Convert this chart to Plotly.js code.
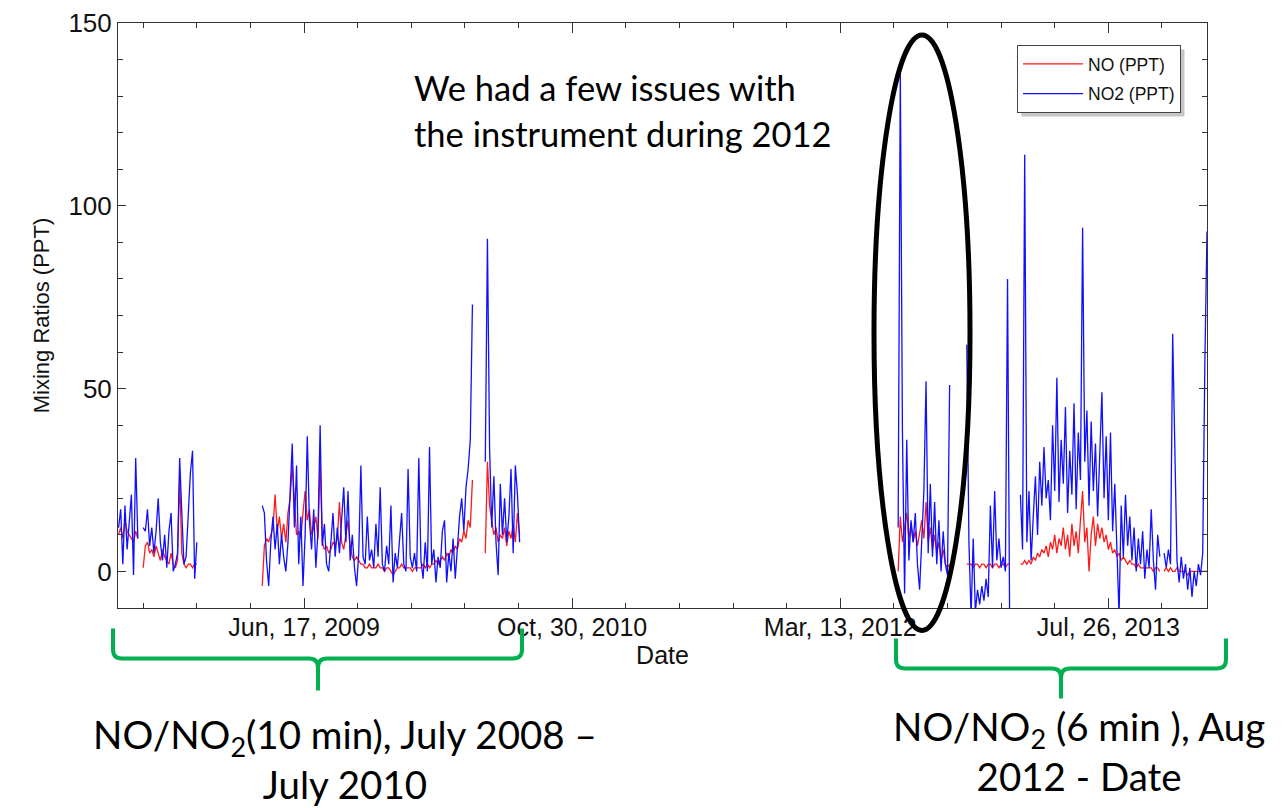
<!DOCTYPE html>
<html>
<head>
<meta charset="utf-8">
<script src="https://cdn.plot.ly/plotly-3.0.1.min.js"></script>
<style>
  html, body { margin: 0; padding: 0; background: #ffffff; }
  #chart { width: 1287px; height: 808px; }
</style>
</head>
<body>
<div id="chart"></div>
<script>
// Averaging interval of the plotted records, in days
const STEP_DAYS = 4;

// First timestamp of each measurement block
const blockStarts = ['2008-07-06', '2008-08-21', '2009-03-31', '2010-05-21', '2012-06-29'];

// NO2 mixing ratio (ppt) per block
const no2_2008a = [12, 17, 2, 18, 6, 13, 21, -1, 31, 9];
const no2_2008b = [12, 11, 17, 7, 12, 5, 11, 20, 8, 3, 10, 1, 11, 16, 0, 2, 5, 31, 16, 2, 4, 14, 27, 33, -2, 8];
const no2_2009 = [
  18, 16, 3, -4, 8, 15, 6, 13, 2, 10,
  4, 0, 8, 23, 35, 12, 29, 2, 15, -4,
  10, 37, 14, 6, 17, 1, 11, 40, 7, 13,
  2, 0, 9, 16, 4, 12, 5, 14, 23, 8,
  22, 3, 10, 1, -4, 5, 29, 4, 2, 15,
  3, 6, 1, 13, 4, 23, 2, 0, 7, 2,
  18, -3, 5, 1, 9, 16, 2, 0, 28, 4,
  1, 5, 0, 31, 3, -2, 8, 0, 34, 2,
  6, -3, 4, 1, 11, 14, -3, 5, 0, 9,
  -2, 6, 15, 20, 11, 23, 28, 36, 73];
const no2_2010 = [30, 91, 34, 12, 26, 8, -1, 24, 10, 20, 8, 15, 28, 5, 29, 21, 8];
const no2_2012 = [
  12, 137, 38, -6, 36, 3, 14, 8, 16, 2,
  -5, 10, 22, 52, 5, 24, 4, 19, 2, 14,
  0, 11, 2, -1, 51, null, null, null, null, null,
  null, null, 62, 8, -12, 9, -11, -5, -9, -4,
  -8, -2, -7, 18, 1, 22, 3, 9, 1, 4,
  0, 80, -15, null, null, null, null, 21, 6, 114,
  8, 22, 3, 15, 26, 10, 30, 18, 34, 20,
  25, 14, 40, 22, 53, 19, 36, 24, 45, 16,
  33, 21, 46, 17, 38, 25, 94, 30, 44, 18,
  41, 22, 35, 15, 32, 49, 20, 37, 14, 38,
  11, 24, 6, -12, 18, 4, 21, 7, 15, 3,
  12, 0, 9, 2, 11, -2, 6, 1, 17, 3,
  -5, 10, 4, null, 5, 1, 6, 2, 65, 38,
  3, -3, 4, -2, 2, -5, 1, -7, 0, -4,
  2, -1, 5, 57, 93];

// NO mixing ratio (ppt) per block
const no_2008a = [10, 12, 9, 14, 11, 10, 9, 8, 11, 9];
const no_2008b = [1, 7, 8, 5, 6, 4, 7, 5, 3, 6, 4, 3, 2, 5, 2, 1, 3, 26, 5, 2, 1, 2, 2, 1, 2, 2];
const no_2009 = [
  -4, 7, 9, 8, 10, 12, 21, 11, 15, 9,
  13, 8, 16, 20, 29, 18, 10, 11, 9, 16,
  22, 14, 17, 10, 12, 15, 9, 31, 8, 6,
  7, 5, 6, 8, 7, 9, 19, 8, 6, 10,
  14, 7, 4, 3, 4, 3, 2, 2, 1, 1,
  2, 1, 1, 1, 2, 1, 1, 0, 1, 1,
  0, -1, 0, 1, 1, 2, 1, 1, 1, 1,
  0, 1, 1, 1, 1, 2, 1, 2, 1, 2,
  2, 3, 2, 3, 4, 3, 5, 4, 6, 5,
  7, 6, 9, 8, 11, 9, 14, 12, 25];
const no_2010 = [5, 30, 18, 14, 10, 12, 8, 10, 9, 12, 7, 11, 9, 13, 8, 16, 10];
const no_2012 = [
  0, 15, 8, 12, 16, 9, 13, 8, 11, 7,
  10, 14, 9, 19, 8, 12, 6, 10, 5, 8,
  3, 6, 2, 1, 2, null, null, null, null, null,
  null, null, 2, 2, 2, 1, 2, 2, 1, 2,
  2, 1, 2, 2, 1, 2, 2, 1, 2, 2,
  1, 2, 2, null, null, null, null, 2, 2, 3,
  2, 3, 2, 4, 3, 5, 4, 6, 5, 7,
  4, 8, 6, 10, 5, 9, 7, 12, 6, 10,
  4, 13, 7, 11, 5, 14, 22, 8, 12, 0,
  10, 15, 7, 13, 9, 12, 8, 10, 6, 8,
  5, 6, 4, 5, 3, 4, 3, 2, 3, 2,
  2, 1, 2, 1, 1, 1, 1, 1, 1, 0,
  1, 1, 0, null, 0, 1, 0, 1, 0, 0,
  1, 0, 0, 0, 0, -1, 0, 0, 0, 0,
  0, 0, 0, 0, 0];

// Date axis labels
const majorDates = ['2009-06-17', '2010-10-30', '2012-03-13', '2013-07-26'];
const majorLabels = ['Jun, 17, 2009', 'Oct, 30, 2010', 'Mar, 13, 2012', 'Jul, 26, 2013'];

// Join the blocks into one series; a null after each block breaks the line
const DAY_MS = 86400000;
function joinBlocks(blocks) {
  const x = [], y = [];
  blocks.forEach((vals, b) => {
    const t0 = Date.parse(blockStarts[b] + 'T00:00:00Z');
    for (let i = 0; i <= vals.length; i++) {
      x.push(new Date(t0 + i * STEP_DAYS * DAY_MS).toISOString().slice(0, 10));
      y.push(i < vals.length ? vals[i] : null);
    }
  });
  return { x, y };
}

const noSeries = joinBlocks([no_2008a, no_2008b, no_2009, no_2010, no_2012]);
const no2Series = joinBlocks([no2_2008a, no2_2008b, no2_2009, no2_2010, no2_2012]);

const traces = [
  { type: 'scatter', mode: 'lines', name: 'NO (PPT)', legendgroup: 'no',
    x: noSeries.x, y: noSeries.y, connectgaps: false,
    line: { color: '#ff1a1a', width: 1.3 } },
  { type: 'scatter', mode: 'lines', name: 'NO2 (PPT)', legendgroup: 'no2',
    x: no2Series.x, y: no2Series.y, connectgaps: false,
    line: { color: '#1010ff', width: 1.3 } }
];

// Plot area in page pixels, used to place the slide callouts
const PL = 118, PR = 1207, PT = 23, PB = 607.6;
const fx = px => (px - PL) / (PR - PL);
const fy = py => (PB - py) / (PB - PT);
function pt(px, py) { return fx(px).toFixed(5) + ',' + fy(py).toFixed(5); }

// Curly bracket under a time span: ends at top, bar, tip pointing down
function bracket(xl, xr, xm, yTop, yBar, yTip, r) {
  return 'M' + pt(xl, yTop) + ' L' + pt(xl, yBar - r) +
    ' Q' + pt(xl, yBar) + ' ' + pt(xl + r, yBar) +
    ' L' + pt(xm - r, yBar) + ' Q' + pt(xm, yBar) + ' ' + pt(xm, yBar + r) +
    ' L' + pt(xm, yTip) + ' M' + pt(xm, yBar + r) +
    ' Q' + pt(xm, yBar) + ' ' + pt(xm + r, yBar) +
    ' L' + pt(xr - r, yBar) + ' Q' + pt(xr, yBar) + ' ' + pt(xr, yBar - r) +
    ' L' + pt(xr, yTop);
}

const green = '#00b050';
const shapes = [
  // legend drop shadow (re-fitted to the legend box after drawing)
  { type: 'rect', xref: 'paper', yref: 'paper', layer: 'above',
    x0: fx(1021), x1: fx(1189), y0: fy(116), y1: fy(49),
    fillcolor: '#c6c6c6', line: { width: 0 } },
  // ring around the 2012 period
  { type: 'circle', xref: 'paper', yref: 'paper', layer: 'above',
    x0: fx(874), x1: fx(970), y0: fy(630), y1: fy(35),
    line: { color: '#000000', width: 5 } },
  { type: 'path', xref: 'paper', yref: 'paper', layer: 'above',
    path: bracket(113, 522, 318, 628, 658, 690, 9),
    line: { color: green, width: 4 } },
  { type: 'path', xref: 'paper', yref: 'paper', layer: 'above',
    path: bracket(896, 1226, 1061, 638, 668, 698, 9),
    line: { color: green, width: 4 } }
];

const slideFont = { family: 'Lato, Carlito, "Open Sans", sans-serif', color: '#000000' };
function note(text, px, py, size, anchor) {
  return { text: text, xref: 'paper', yref: 'paper', x: fx(px), y: fy(py),
    xanchor: anchor, yanchor: 'middle', align: 'center', showarrow: false,
    font: Object.assign({ size: size }, slideFont) };
}

const annotations = [
  note('We had a few issues with', 412, 87, 34.5, 'left'),
  note('the instrument during 2012', 412, 133, 34.5, 'left'),
  note('NO/NO<sub>2</sub>(10 min), July 2008 –<br>July 2010', 345, 758, 38.5, 'center'),
  note('NO/NO<sub>2</sub> (6 min ), Aug<br>2012 - Date', 1079, 751, 38.5, 'center')
];

const axisColor = '#333333';
const layout = {
  width: 1287, height: 808,
  margin: { l: PL, r: 1287 - PR, t: PT, b: 808 - PB, pad: 0 },
  paper_bgcolor: '#ffffff', plot_bgcolor: '#ffffff',
  font: { family: '"Liberation Sans", Arial, Helvetica, sans-serif', color: '#111111' },
  showlegend: true,
  legend: {
    x: fx(1017), y: fy(45), xanchor: 'left', yanchor: 'top',
    bgcolor: '#ffffff', bordercolor: '#444444', borderwidth: 1,
    font: { size: 17.5, color: '#111111' },
    itemwidth: 60, tracegroupgap: 4
  },
  xaxis: {
    type: 'date', range: ['2008-07-05', '2014-01-26'],
    tickmode: 'array', tickvals: majorDates, ticktext: majorLabels,
    ticks: 'inside', ticklen: 10, tickwidth: 1, tickcolor: axisColor,
    showline: true, linecolor: axisColor, linewidth: 1, mirror: 'allticks',
    showgrid: false, zeroline: false,
    tickfont: { size: 25, color: '#111111' }, ticklabelstandoff: -3,
    minor: { ticks: 'inside', ticklen: 5, tickcolor: axisColor,
      tick0: '2008-08-21', dtick: 100 * DAY_MS, showgrid: false },
    title: { text: 'Date', font: { size: 25, color: '#111111' }, standoff: 1 }
  },
  yaxis: {
    range: [-10, 150],
    tickmode: 'array', tickvals: [0, 50, 100, 150],
    ticks: 'inside', ticklen: 8, tickwidth: 1, tickcolor: axisColor,
    showline: true, linecolor: axisColor, linewidth: 1, mirror: 'allticks',
    showgrid: false, zeroline: false,
    tickfont: { size: 26, color: '#111111' },
    minor: { ticks: 'inside', ticklen: 5, tickcolor: axisColor,
      tick0: 0, dtick: 10, showgrid: false },
    title: { text: 'Mixing Ratios (PPT)', font: { size: 22, color: '#111111' }, standoff: 12 }
  },
  shapes: shapes,
  annotations: annotations
};

const gd = document.getElementById('chart');
Plotly.newPlot(gd, traces, layout, { staticPlot: true, displayModeBar: false }).then(() => {
  // Fit the drop shadow to the drawn legend box, offset down and right
  const bg = gd.querySelector('.legend .bg');
  if (!bg) return;
  const r = bg.getBoundingClientRect();
  const c = gd.getBoundingClientRect();
  const off = 4;
  const left = r.left - c.left + off, right = r.right - c.left + off;
  const top = r.top - c.top + off, bottom = r.bottom - c.top + off;
  return Plotly.relayout(gd, {
    'shapes[0].x0': fx(left), 'shapes[0].x1': fx(right),
    'shapes[0].y0': fy(bottom), 'shapes[0].y1': fy(top)
  });
});
</script>
</body>
</html>
